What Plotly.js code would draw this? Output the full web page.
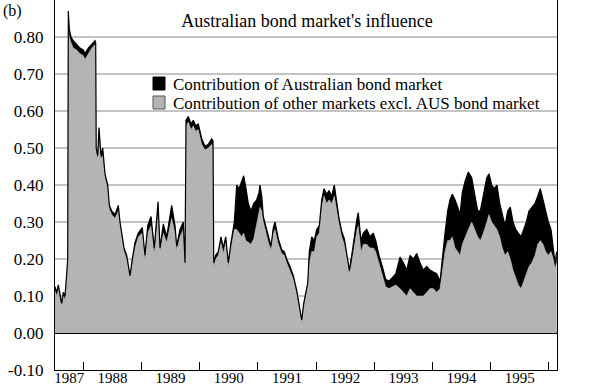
<!DOCTYPE html>
<html>
<head>
<meta charset="utf-8">
<script src="https://cdn.plot.ly/plotly-3.0.1.min.js"></script>
<style>
html,body{margin:0;padding:0;background:#fff;}
#chart{width:600px;height:385px;}
#chart svg text{font-family:'Liberation Serif','Times New Roman',serif !important;}
</style>
</head>
<body>
<div id="chart"></div>
<script>
// Decimal-year dates
const years = [
1987.514,1987.543,1987.571,1987.600,1987.629,1987.657,1987.686,1987.715,1987.732,1987.743,
1987.760,1987.789,1987.828,1987.887,1987.944,1988.000,1988.030,1988.086,1988.145,1988.201,
1988.213,1988.222,1988.248,1988.270,1988.304,1988.334,1988.373,1988.420,1988.447,1988.488,
1988.545,1988.602,1988.631,1988.660,1988.700,1988.746,1988.803,1988.842,1988.889,1988.945,
1989.014,1989.060,1989.107,1989.164,1989.220,1989.285,1989.318,1989.375,1989.433,1989.519,
1989.576,1989.605,1989.662,1989.718,1989.748,1989.765,1989.804,1989.851,1989.890,1989.932,
1989.976,1990.035,1990.091,1990.148,1990.206,1990.229,1990.241,1990.275,1990.320,1990.366,
1990.406,1990.447,1990.492,1990.538,1990.595,1990.636,1990.676,1990.722,1990.756,1990.791,
1990.835,1990.882,1990.928,1990.980,1991.019,1991.036,1991.066,1991.093,1991.134,1991.179,
1991.225,1991.265,1991.294,1991.351,1991.409,1991.454,1991.495,1991.552,1991.609,1991.667,
1991.706,1991.753,1991.787,1991.822,1991.856,1991.883,1991.925,1991.969,1992.011,1992.055,
1992.096,1992.136,1992.182,1992.222,1992.268,1992.313,1992.354,1992.394,1992.440,1992.485,
1992.531,1992.571,1992.612,1992.657,1992.703,1992.725,1992.772,1992.811,1992.870,1992.926,
1992.983,1993.024,1993.081,1993.138,1993.196,1993.253,1993.310,1993.368,1993.442,1993.499,
1993.557,1993.614,1993.670,1993.729,1993.785,1993.842,1993.901,1993.957,1994.014,1994.072,
1994.129,1994.169,1994.215,1994.261,1994.301,1994.340,1994.387,1994.433,1994.473,1994.512,
1994.559,1994.615,1994.674,1994.730,1994.777,1994.822,1994.873,1994.932,1994.971,1995.017,
1995.062,1995.108,1995.155,1995.200,1995.246,1995.292,1995.337,1995.383,1995.430,1995.474,
1995.521,1995.567,1995.612,1995.658,1995.705,1995.761,1995.808,1995.852,1995.899,1995.945,
1995.990,1996.036,1996.076,1996.105,1996.134
];
// Top of the black area (total influence)
const totalInfluence = [
0.125,0.11,0.13,0.10,0.08,0.11,0.10,0.16,0.20,0.87,
0.82,0.80,0.79,0.78,0.77,0.765,0.755,0.77,0.78,0.79,
0.785,0.50,0.48,0.555,0.48,0.50,0.43,0.40,0.345,0.33,
0.32,0.345,0.30,0.27,0.23,0.21,0.155,0.20,0.245,0.27,
0.285,0.21,0.29,0.315,0.23,0.355,0.23,0.295,0.26,0.345,
0.29,0.235,0.28,0.30,0.19,0.575,0.585,0.565,0.575,0.56,
0.565,0.525,0.505,0.51,0.525,0.52,0.19,0.21,0.22,0.26,
0.23,0.26,0.19,0.245,0.30,0.40,0.39,0.41,0.425,0.395,
0.35,0.33,0.35,0.36,0.38,0.40,0.37,0.315,0.29,0.26,
0.235,0.285,0.30,0.255,0.225,0.22,0.20,0.18,0.155,0.115,
0.075,0.035,0.08,0.11,0.135,0.22,0.26,0.25,0.28,0.29,
0.36,0.39,0.375,0.385,0.37,0.40,0.35,0.31,0.275,0.255,
0.21,0.17,0.21,0.265,0.31,0.325,0.25,0.27,0.28,0.26,
0.27,0.25,0.21,0.18,0.145,0.14,0.15,0.16,0.205,0.19,
0.17,0.21,0.20,0.215,0.19,0.17,0.18,0.17,0.165,0.16,
0.14,0.21,0.27,0.33,0.36,0.375,0.36,0.34,0.32,0.38,
0.41,0.435,0.42,0.37,0.33,0.33,0.37,0.42,0.43,0.40,
0.39,0.40,0.35,0.32,0.29,0.33,0.34,0.30,0.28,0.27,
0.26,0.28,0.30,0.33,0.34,0.35,0.37,0.39,0.36,0.33,
0.30,0.28,0.23,0.19,0.22
];
// Top of the grey area (other markets excl. AUS bond market)
const otherMarkets = [
0.115,0.10,0.12,0.09,0.075,0.10,0.09,0.15,0.19,0.82,
0.80,0.785,0.77,0.765,0.755,0.75,0.74,0.755,0.77,0.78,
0.775,0.49,0.47,0.52,0.47,0.48,0.42,0.39,0.335,0.32,
0.31,0.33,0.29,0.26,0.22,0.20,0.15,0.19,0.23,0.26,
0.27,0.20,0.27,0.29,0.215,0.32,0.22,0.27,0.245,0.31,
0.27,0.225,0.26,0.28,0.18,0.56,0.57,0.55,0.56,0.545,
0.55,0.51,0.495,0.50,0.51,0.505,0.18,0.20,0.21,0.245,
0.215,0.245,0.18,0.23,0.28,0.28,0.27,0.26,0.27,0.25,
0.245,0.24,0.255,0.30,0.33,0.34,0.33,0.30,0.275,0.245,
0.225,0.27,0.28,0.24,0.215,0.21,0.19,0.17,0.145,0.105,
0.065,0.03,0.07,0.10,0.125,0.19,0.22,0.22,0.26,0.27,
0.34,0.37,0.35,0.36,0.35,0.37,0.33,0.295,0.26,0.24,
0.20,0.16,0.19,0.24,0.28,0.29,0.22,0.24,0.24,0.23,
0.23,0.22,0.19,0.16,0.125,0.12,0.125,0.13,0.12,0.11,
0.10,0.12,0.11,0.10,0.10,0.10,0.11,0.12,0.12,0.11,
0.12,0.17,0.22,0.25,0.25,0.26,0.23,0.22,0.21,0.24,
0.26,0.28,0.30,0.28,0.26,0.25,0.27,0.30,0.32,0.30,
0.29,0.28,0.26,0.23,0.21,0.22,0.20,0.17,0.15,0.13,
0.12,0.14,0.16,0.18,0.19,0.21,0.24,0.25,0.24,0.22,
0.21,0.22,0.20,0.175,0.19
];
const yearBoundaries = [1988,1989,1990,1991,1992,1993,1994,1995,1996];
const xLabelPos = [1987.757,1988.5,1989.5,1990.5,1991.5,1992.5,1993.5,1994.5,1995.5];
const xLabels = ['1987','1988','1989','1990','1991','1992','1993','1994','1995'];
const yTickVals = [-0.1,0,0.1,0.2,0.3,0.4,0.5,0.6,0.7,0.8];
const yTickText = ['-0.10','0.00','0.10','0.20','0.30','0.40','0.50','0.60','0.70','0.80'];
const seriesNames = ['Contribution of Australian bond market','Contribution of other markets excl. AUS bond market'];
const chartTitle = "Australian bond market's influence";

const FONT = 'Liberation Serif';
const GREY = 'rgb(180,180,180)';
const xr = [1987.514, 1996.139];
const yr = [-0.1, 0.9];

const traces = [
  {x: years, y: otherMarkets, type: 'scatter', mode: 'lines', fill: 'tozeroy',
   fillcolor: GREY, line: {width: 0.5, color: GREY}, name: seriesNames[1], showlegend: false, hoverinfo: 'skip'},
  {x: years, y: totalInfluence, type: 'scatter', mode: 'lines', fill: 'tonexty',
   fillcolor: '#000', line: {width: 1.2, color: '#000'}, name: seriesNames[0], showlegend: false, hoverinfo: 'skip'}
];

const L = 55, R = 557, T = 0, B = 370;
const px = v => (v - L) / (R - L);
const py = v => (B - v) / (B - T);

const layout = {
  width: 600, height: 385,
  margin: {l: 55, r: 43, t: 0, b: 15, pad: 0},
  paper_bgcolor: '#fff', plot_bgcolor: '#fff',
  showlegend: false,
  font: {family: FONT, color: '#000', size: 16},
  title: {text: chartTitle, font: {family: FONT, size: 18, color: '#000'},
          x: px(307), xanchor: 'center', xref: 'paper', y: 1 - 21/385, yanchor: 'middle', yref: 'container'},
  xaxis: {range: xr, type: 'linear', tickmode: 'array', tickvals: xLabelPos, ticktext: xLabels,
          ticks: '', showgrid: false, zeroline: false, showline: true, linecolor: '#000', linewidth: 1.2,
          mirror: true, tickfont: {family: FONT, size: 15, color: '#000'}, ticklabelstandoff: -6,
          minor: {tickmode: 'array', tickvals: yearBoundaries, ticks: 'inside', ticklen: 8,
                  tickcolor: '#000', tickwidth: 1, showgrid: false}},
  yaxis: {range: yr, tickmode: 'array', tickvals: yTickVals, ticktext: yTickText, ticks: '',
          showgrid: true, gridcolor: '#c4c4c4', gridwidth: 1.5, zeroline: true, zerolinecolor: '#000',
          zerolinewidth: 1.5, showline: true, linecolor: '#000', linewidth: 1.2, mirror: true,
          tickfont: {family: FONT, size: 17, color: '#000'}, ticklabelstandoff: 7},
  yaxis2: {range: yr, overlaying: 'y', side: 'right', anchor: 'x', tickmode: 'array', tickvals: yTickVals,
           ticktext: yTickText, ticks: 'outside', ticklen: 4, tickcolor: '#c4c4c4', tickwidth: 1.5,
           showgrid: false, zeroline: false, showline: false,
           tickfont: {family: FONT, size: 17, color: '#000'}, ticklabelstandoff: 4},
  shapes: [
    {type: 'rect', xref: 'paper', yref: 'paper', x0: px(153), x1: px(165), y0: py(90), y1: py(77),
     fillcolor: '#000', line: {width: 1, color: '#000'}},
    {type: 'rect', xref: 'paper', yref: 'paper', x0: px(153), x1: px(165), y0: py(109), y1: py(96),
     fillcolor: GREY, line: {width: 1, color: '#555'}}
  ],
  annotations: [
    {text: seriesNames[0], xref: 'paper', yref: 'paper', x: px(171), y: py(84), xanchor: 'left', yanchor: 'middle',
     showarrow: false, font: {family: FONT, size: 17, color: '#000'}},
    {text: seriesNames[1], xref: 'paper', yref: 'paper', x: px(171), y: py(103), xanchor: 'left', yanchor: 'middle',
     showarrow: false, font: {family: FONT, size: 17, color: '#000'}},
    {text: '(b)', xref: 'paper', yref: 'paper', x: px(1), y: 1, xanchor: 'left', yanchor: 'top',
     showarrow: false, font: {family: FONT, size: 16, color: '#000'}}
  ]
};

Plotly.newPlot('chart', traces, layout, {staticPlot: true, displayModeBar: false});
</script>
</body>
</html>
